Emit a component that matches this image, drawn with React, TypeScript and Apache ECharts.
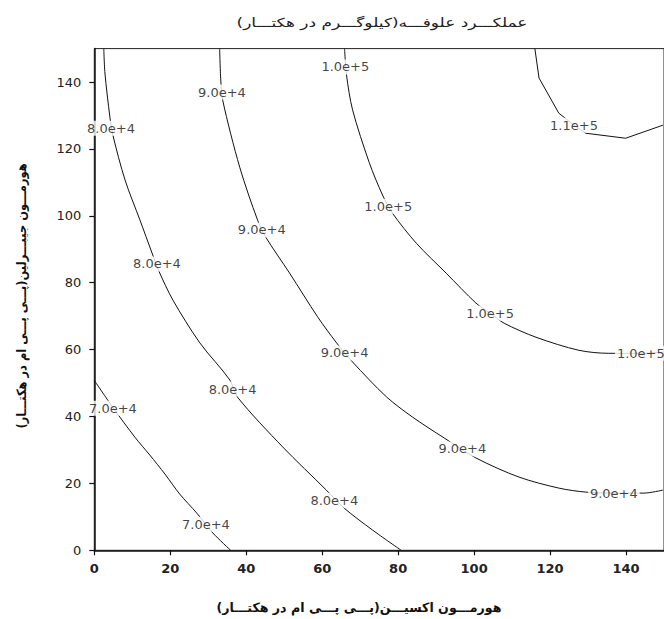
import React, { useEffect, useRef } from "react";
import * as echarts from "echarts";

const TITLE = "عملکـــرد علوفـــه(کیلوگـــرم در هکتـــار)";
const X_NAME = "هورمـــون اکسیـــن(پـــی پـــی ام در هکتـــار)";
const Y_NAME = "هورمـــون جیبـــرلین(پـــی پـــی ام در هکتـــار)";

const X_TICKS = [0, 20, 40, 60, 80, 100, 120, 140];
const Y_TICKS = [0, 20, 40, 60, 80, 100, 120, 140];

const LEVELS = ["7.0e+4", "8.0e+4", "9.0e+4", "1.0e+5", "1.1e+5"];

const contour70k = [
  [0, 50.8], [4.9, 42.7], [10.7, 33.8], [14.6, 28.5], [18.6, 22.8],
  [22.5, 16.8], [27.0, 11.1], [31.2, 5.2], [35.9, 0],
];
const contour80k = [
  [2.5, 150], [2.8, 142.7], [4.1, 129.6], [4.9, 124.1], [8.1, 110.7],
  [12.0, 98.8], [15.2, 88.9], [17.0, 83.5], [20.7, 74.8], [27.8, 62.0],
  [35.7, 50.9], [37.7, 45.8], [49.6, 30.9], [61.1, 18.0], [65.8, 12.6],
  [73.2, 6.1], [80.8, 0],
];
const contour90k = [
  [33.0, 150], [33.3, 140.6], [33.8, 134.6], [38.3, 114.5], [43.0, 98.7],
  [45.1, 93.7], [51.4, 82.9], [58.8, 69.8], [63.8, 62.0], [68.0, 56.3],
  [76.9, 45.9], [83.7, 39.9], [92.1, 33.6], [100.5, 27.6], [111.8, 21.9],
  [122.3, 18.6], [129.4, 17.4], [136.8, 17.1], [144.7, 17.1], [149.7, 18.0],
];
const contour100k = [
  [65.9, 150], [66.4, 142.2], [68.0, 131.7], [72.4, 115.9], [75.9, 106.2],
  [78.5, 100.8], [84.8, 91.8], [92.7, 82.8], [100.5, 73.9], [104.2, 70.9],
  [107.9, 67.9], [116.3, 63.7], [127.6, 59.8], [135.5, 58.9], [143.9, 58.9],
  [149.7, 59.2],
];
const contour110k = [
  [116.0, 150], [117.1, 141.2], [122.3, 130.7], [126.3, 127.1], [129.4, 124.7],
  [139.9, 123.2], [149.7, 127.1],
];

const labels70k = [[4.9, 42.5], [29.4, 7.8]];
const labels80k = [[4.4, 126.2], [16.5, 85.6], [36.4, 48.2], [63.2, 15.0]];
const labels90k = [[33.6, 137.0], [44.1, 95.8], [65.9, 59.0], [96.9, 30.3], [136.8, 17.1]];
const labels100k = [[66.1, 144.5], [77.4, 102.9], [104.2, 70.9], [143.9, 58.9]];
const labels110k = [[126.3, 127.1]];

const CONTOURS = [contour70k, contour80k, contour90k, contour100k, contour110k];
const LABELS = [labels70k, labels80k, labels90k, labels100k, labels110k];

export default function App() {
  const ref = useRef<HTMLDivElement>(null);
  useEffect(() => {
    if (!ref.current) return;
    const chart = echarts.init(ref.current, undefined, { renderer: "svg" });
    const lineSeries = CONTOURS.map((pts, i) => ({
      type: "line",
      name: LEVELS[i],
      data: pts,
      showSymbol: false,
      symbol: "none",
      smooth: i === 4 ? false : 0.3,
      lineStyle: { color: "#111", width: 1 },
      silent: true,
      z: 2,
    }));
    const labelSeries = LABELS.map((pts, i) => ({
      type: "scatter",
      name: LEVELS[i] + "-label",
      data: pts,
      symbolSize: 1,
      itemStyle: { color: "rgba(0,0,0,0)" },
      clip: false,
      silent: true,
      z: 3,
      label: {
        show: true,
        position: "inside",
        formatter: () => LEVELS[i],
        fontFamily: "DejaVu Sans",
        fontSize: 13,
        color: "#111",
        backgroundColor: "#ffffff",
        padding: [1, 2],
      },
    }));
    chart.setOption({
      animation: false,
      backgroundColor: "#ffffff",
      grid: {
        left: 94.3,
        top: 48.6,
        right: -1,
        bottom: 68.7,
        show: true,
        borderColor: "#222",
        borderWidth: 1,
      },
      xAxis: {
        type: "value",
        min: 0,
        max: 150,
        interval: 20,
        axisLine: { show: true, onZero: false, lineStyle: { color: "#111", width: 1.5 } },
        axisTick: { show: true, inside: false, length: 5, customValues: X_TICKS, lineStyle: { color: "#111", width: 1.2 } },
        axisLabel: {
          customValues: X_TICKS,
          margin: 12,
          fontFamily: "DejaVu Sans",
          fontWeight: "bold",
          fontSize: 13,
          color: "#222",
        },
        splitLine: { show: false },
      },
      yAxis: {
        type: "value",
        min: 0,
        max: 150,
        interval: 20,
        axisLine: { show: true, onZero: false, lineStyle: { color: "#111", width: 1.5 } },
        axisTick: { show: true, inside: false, length: 5, customValues: Y_TICKS, lineStyle: { color: "#111", width: 1.2 } },
        axisLabel: {
          customValues: Y_TICKS,
          margin: 13,
          fontFamily: "DejaVu Sans",
          fontSize: 13,
          color: "#222",
        },
        splitLine: { show: false },
      },
      graphic: [
        {
          type: "text",
          x: 382,
          y: 23,
          scaleX: 1.36,
          style: {
            text: TITLE,
            textAlign: "center",
            textVerticalAlign: "middle",
            fontFamily: "DejaVu Sans",
            fontSize: 12.5,
            fill: "#222",
          },
        },
        {
          type: "text",
          x: 359,
          y: 607,
          scaleX: 0.97,
          style: {
            text: X_NAME,
            textAlign: "center",
            textVerticalAlign: "middle",
            fontFamily: "DejaVu Sans",
            fontWeight: "bold",
            fontSize: 13,
            fill: "#111",
          },
        },
        {
          type: "text",
          x: 22,
          y: 296,
          rotation: Math.PI / 2,
          scaleX: 0.88,
          style: {
            text: Y_NAME,
            textAlign: "center",
            textVerticalAlign: "middle",
            fontFamily: "DejaVu Sans",
            fontWeight: "bold",
            fontSize: 13,
            fill: "#111",
          },
        },
      ],
      series: [...lineSeries, ...labelSeries],
    });
    return () => chart.dispose();
  }, []);
  return (
    <div
      ref={ref}
      style={{ position: "fixed", left: 0, top: 0, width: 664, height: 619 }}
    />
  );
}
